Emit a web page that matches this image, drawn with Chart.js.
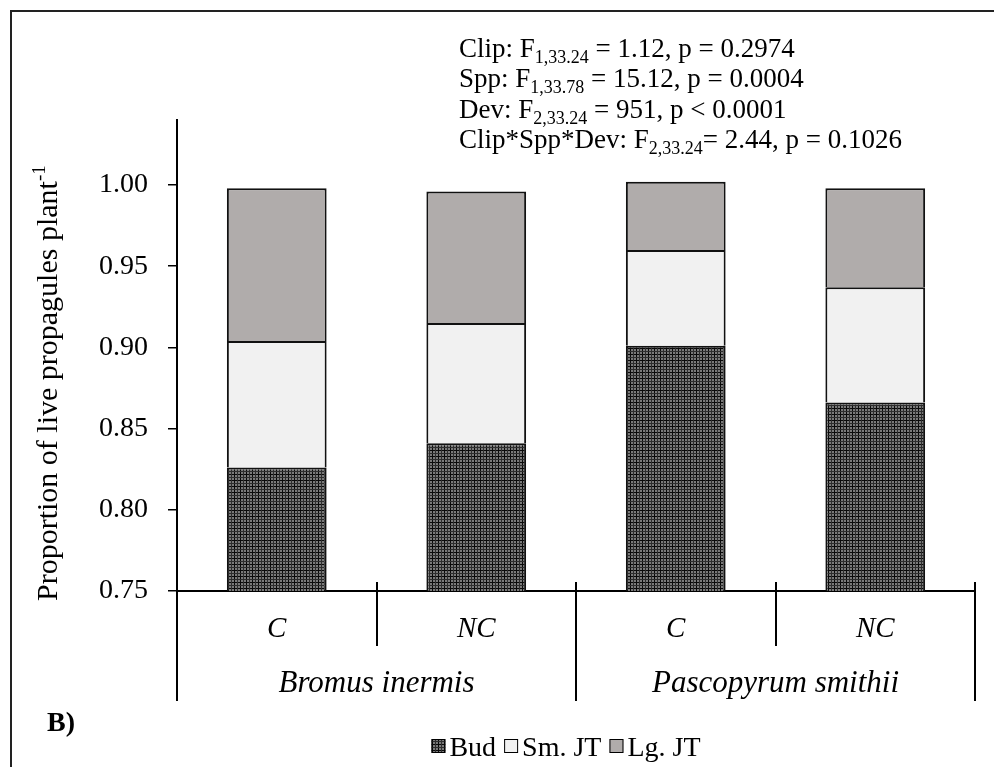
<!DOCTYPE html>
<html><head><meta charset="utf-8">
<script src="https://cdn.jsdelivr.net/npm/chart.js@4"></script>
<style>html,body{margin:0;padding:0;background:#fff}#wrap{position:relative;width:994px;height:767px}</style>
</head><body><div id="wrap"><canvas id="c" width="994" height="767"></canvas></div>
<script>
// ---- data ----
const categories = ['C', 'NC', 'C', 'NC'];
const groups = ['Bromus inermis', 'Pascopyrum smithii'];
const seriesNames = ['Bud', 'Sm. JT', 'Lg. JT'];
const budValues = [0.826, 0.841, 0.901, 0.866];
const smJTValues = [0.078, 0.074, 0.059, 0.071];
const lgJTValues = [0.094, 0.081, 0.042, 0.061];
const yTicks = [0.75, 0.80, 0.85, 0.90, 0.95, 1.00];
const yMin = 0.75, yMax = 1.04;
const yTitle = 'Proportion of live propagules plant';
const yTitleSup = '-1';
const panelLabel = 'B)';
const statsLines = [
  [['Clip: F', 0], ['1,33.24', 1], [' = 1.12, p = 0.2974', 0]],
  [['Spp: F', 0], ['1,33.78', 1], [' = 15.12, p = 0.0004', 0]],
  [['Dev: F', 0], ['2,33.24', 1], [' = 951, p < 0.0001', 0]],
  [['Clip*Spp*Dev: F', 0], ['2,33.24', 1], ['= 2.44, p = 0.1026', 0]]
];

const SERIF = '"Liberation Serif", "Times New Roman", serif';

function makePattern() {
  const t = document.createElement('canvas');
  t.width = 6; t.height = 6;
  const g = t.getContext('2d');
  g.fillStyle = '#7a7a7a'; g.fillRect(0, 0, 6, 6);
  g.fillStyle = '#0a0a0a'; g.fillRect(0, 0, 1, 6); g.fillRect(0, 0, 6, 1);
  g.fillStyle = '#2e2e2e'; g.fillRect(3, 0, 1, 6); g.fillRect(0, 3, 6, 1);
  return document.getElementById('c').getContext('2d').createPattern(t, 'repeat');
}
const budPattern = makePattern();
const fills = [budPattern, '#f1f1f1', '#b0acab'];

const extras = {
  id: 'extras',
  afterDraw(chart) {
    const ctx = chart.ctx;
    const xs = chart.scales.x;
    const area = chart.chartArea;
    ctx.save();
    // frame
    ctx.strokeStyle = '#222'; ctx.lineWidth = 2;
    ctx.beginPath(); ctx.moveTo(11, 767); ctx.lineTo(11, 11); ctx.lineTo(994, 11); ctx.stroke();

    // stats text
    ctx.fillStyle = '#000'; ctx.textBaseline = 'alphabetic'; ctx.textAlign = 'left';
    const baseY = [57, 87, 118, 148];
    statsLines.forEach((line, i) => {
      let x = 459;
      line.forEach(([txt, sub]) => {
        ctx.font = (sub ? '18px ' : '27px ') + SERIF;
        ctx.fillText(txt, x, baseY[i] + (sub ? 6 : 0));
        x += ctx.measureText(txt).width;
      });
    });

    // y title
    ctx.save();
    ctx.translate(57, 601);
    ctx.rotate(-Math.PI / 2);
    ctx.font = '30px ' + SERIF;
    ctx.fillText(yTitle, 0, 0);
    const w = ctx.measureText(yTitle).width;
    ctx.font = '19px ' + SERIF;
    ctx.fillText(yTitleSup, w, -12);
    ctx.restore();

    // x separators
    const n = categories.length;
    const cw = (area.right - area.left) / n;
    ctx.strokeStyle = '#000'; ctx.lineWidth = 2;
    for (let k = 0; k <= n; k++) {
      const x = Math.round(area.left + k * cw);
      const isGroup = k % 2 === 0;
      ctx.beginPath();
      ctx.moveTo(x, k === 0 ? area.bottom : area.bottom - 9);
      ctx.lineTo(x, isGroup ? 701 : 646);
      ctx.stroke();
    }
    // category labels
    ctx.textAlign = 'center'; ctx.textBaseline = 'middle';
    ctx.font = 'italic 29px ' + SERIF;
    categories.forEach((c, i) => ctx.fillText(c, xs.getPixelForValue(i), 629));
    ctx.font = 'italic 31px ' + SERIF;
    groups.forEach((gname, gi) => {
      const cx = (xs.getPixelForValue(gi * 2) + xs.getPixelForValue(gi * 2 + 1)) / 2;
      ctx.fillText(gname, cx, 684);
    });

    // panel label
    ctx.textAlign = 'left'; ctx.textBaseline = 'alphabetic';
    ctx.font = 'bold 28px ' + SERIF;
    ctx.fillText(panelLabel, 47, 731);

    // legend
    ctx.font = '28px ' + SERIF;
    const box = 14, gapBT = 4, gapItem = 8;
    let total = 0;
    const widths = seriesNames.map(s => ctx.measureText(s).width);
    widths.forEach((wd, i) => { total += box + gapBT + wd + (i < widths.length - 1 ? gapItem : 0); });
    let lx = 566 - total / 2;
    const ly = 756;
    seriesNames.forEach((s, i) => {
      ctx.fillStyle = fills[i];
      ctx.fillRect(lx, ly - 17, box, box);
      ctx.strokeStyle = '#000'; ctx.lineWidth = 1;
      ctx.strokeRect(lx + 0.5, ly - 16.5, box - 1, box - 1);
      ctx.fillStyle = '#000';
      ctx.fillText(s, lx + box + gapBT, ly);
      lx += box + gapBT + widths[i] + gapItem;
    });
    ctx.restore();
  }
};

const mk = (label, data, i) => ({
  label, data,
  backgroundColor: fills[i],
  borderColor: '#111',
  borderWidth: 2,
  barPercentage: 0.5,
  categoryPercentage: 1.0,
  clip: 0
});

new Chart(document.getElementById('c'), {
  type: 'bar',
  data: {
    labels: categories,
    datasets: [
      mk(seriesNames[0], budValues, 0),
      mk(seriesNames[1], smJTValues, 1),
      mk(seriesNames[2], lgJTValues, 2)
    ]
  },
  options: {
    responsive: false,
    animation: false,
    events: [],
    layout: { padding: { top: 120, bottom: 176, left: 0, right: 19 } },
    plugins: { legend: { display: false }, tooltip: { enabled: false }, title: { display: false } },
    scales: {
      x: {
        stacked: true,
        offset: true,
        ticks: { display: false },
        grid: { display: false, drawTicks: false },
        border: { display: true, color: '#000', width: 2 },
        afterFit: s => { s.height = 0; }
      },
      y: {
        stacked: true,
        min: yMin, max: yMax,
        afterBuildTicks: s => { s.ticks = yTicks.map(v => ({ value: v })); },
        ticks: {
          color: '#000',
          font: { family: SERIF, size: 28 },
          padding: 20,
          callback: v => Number(v).toFixed(2)
        },
        grid: { display: true, drawOnChartArea: false, drawTicks: true, tickLength: 9, color: '#000', lineWidth: 1.5 },
        border: { display: true, color: '#000', width: 2 },
        afterFit: s => { s.width = 177; }
      }
    }
  },
  plugins: [extras]
});
</script>
</body></html>
